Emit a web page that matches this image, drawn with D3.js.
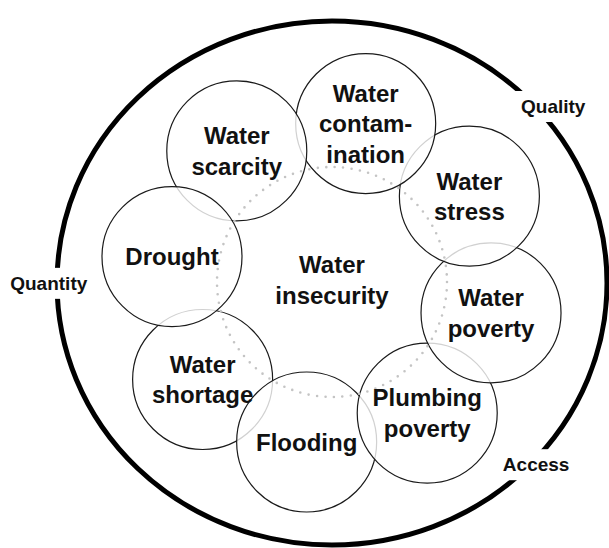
<!DOCTYPE html>
<html>
<head>
<meta charset="utf-8">
<script src="https://cdn.jsdelivr.net/npm/d3@7"></script>
<style>
  html, body { margin: 0; padding: 0; background: #fff; }
  svg { display: block; }
  text { font-family: "Liberation Sans", Arial, Helvetica, sans-serif; font-weight: bold; fill: #111; }
</style>
</head>
<body>
<div id="chart"></div>
<script>
// Concepts around the ring (clockwise from top)
const conceptLabels = [
  ["Water", "contam-", "ination"],
  ["Water", "stress"],
  ["Water", "poverty"],
  ["Plumbing", "poverty"],
  ["Flooding"],
  ["Water", "shortage"],
  ["Drought"],
  ["Water", "scarcity"]
];
// angle of each concept circle, degrees clockwise from 12 o'clock
const conceptAngles = [12, 58, 101, 144, 189, 233, 279, 324];
// stacking order (0 = drawn first)
const conceptLayer = [5, 4, 3, 2, 1, 0, 7, 6];

// Dimensions on the outer ring
const dimensionLabels = ["Quality", "Quantity", "Access"];
const dimensionAngles = [50, 270, 133];

const centerLabel = ["Water", "insecurity"];

const width = 609, height = 548;
const cx = 332, cy = 283;
const ringRx = 275, ringRy = 262;
const orbit = 162;      // distance of concept circles from centre
const circleR = 70;
const dotR = 115;

const svg = d3.select("#chart").append("svg")
  .attr("width", width)
  .attr("height", height);

const angle = d3.scaleLinear().domain([0, 360]).range([0, 2 * Math.PI]);
const radial = d3.scaleLinear().domain([0, 1]).range([0, orbit]);

// Outer ring
svg.append("ellipse")
  .attr("cx", cx)
  .attr("cy", cy)
  .attr("rx", ringRx)
  .attr("ry", ringRy)
  .attr("fill", "none")
  .attr("stroke", "#000")
  .attr("stroke-width", 5);

// Dimension labels with white knock-out behind them
const labelOffset = [1.05, 1.03, 1.015];
const dims = svg.append("g").selectAll("g")
  .data(dimensionLabels.map((d, i) => ({ name: d, a: dimensionAngles[i], k: labelOffset[i] })))
  .join("g")
  .attr("transform", d => `translate(${cx + d.k * ringRx * Math.sin(angle(d.a))},${cy - d.k * ringRy * Math.cos(angle(d.a))})`);

dims.append("rect").attr("fill", "#fff");
dims.append("text")
  .attr("text-anchor", "middle")
  .attr("dy", "0.36em")
  .attr("font-size", 19)
  .text(d => d.name);
dims.each(function() {
  const g = d3.select(this);
  const b = g.select("text").node().getBBox();
  g.select("rect")
    .attr("x", b.x - 7).attr("y", b.y - 5)
    .attr("width", b.width + 14).attr("height", b.height + 10);
});

// Concept circles
const concepts = conceptLabels.map((lines, i) => ({
  lines: lines,
  a: conceptAngles[i],
  layer: conceptLayer[i],
  x: cx + radial(1) * Math.sin(angle(conceptAngles[i])),
  y: cy - 1 - radial(1) * Math.cos(angle(conceptAngles[i]))
}));

svg.append("g").selectAll("circle")
  .data(concepts.slice().sort((a, b) => a.layer - b.layer))
  .join("circle")
  .attr("cx", d => d.x)
  .attr("cy", d => d.y)
  .attr("r", circleR)
  .attr("fill", "#fff")
  .attr("fill-opacity", 0.8)
  .attr("stroke", "#1a1a1a")
  .attr("stroke-width", 1.2);

// Dotted inner ring
svg.append("circle")
  .attr("cx", cx)
  .attr("cy", cy - 1)
  .attr("r", dotR)
  .attr("fill", "none")
  .attr("stroke", "#c4c4c4")
  .attr("stroke-width", 2.6)
  .attr("stroke-linecap", "round")
  .attr("stroke-dasharray", `0 ${(2 * Math.PI * dotR / 85).toFixed(3)}`);

// Concept text on top
const lineH = 30.5;
svg.append("g").selectAll("text")
  .data(concepts)
  .join("text")
  .attr("text-anchor", "middle")
  .attr("font-size", 24)
  .attr("x", d => d.x)
  .attr("y", d => d.y)
  .each(function(d) {
    const n = d.lines.length;
    d3.select(this).selectAll("tspan")
      .data(d.lines)
      .join("tspan")
      .attr("x", d.x)
      .attr("y", (l, j) => d.y + (j - (n - 1) / 2) * lineH)
      .attr("dy", "0.36em")
      .text(l => l);
  });

// Centre label
svg.append("text")
  .attr("text-anchor", "middle")
  .attr("font-size", 24)
  .selectAll("tspan")
  .data(centerLabel)
  .join("tspan")
  .attr("x", cx)
  .attr("y", (l, j) => 280 + (j - 0.5) * lineH)
  .attr("dy", "0.36em")
  .text(l => l);
</script>
</body>
</html>
